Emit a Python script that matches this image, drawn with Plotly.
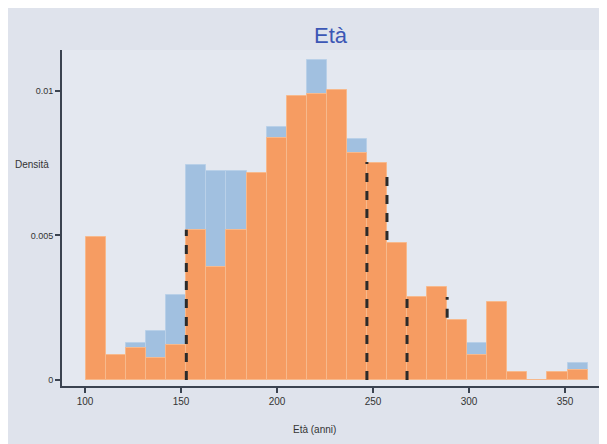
import numpy as np
import plotly.graph_objects as go

# ---- data ----
bin_start = 100.5
bin_width = 10.45
orange_density = [0.00495, 0.00087, 0.00110, 0.00076, 0.00121, 0.00520, 0.00390, 0.00520,
                  0.00716, 0.00837, 0.00983, 0.00990, 0.01003, 0.00785, 0.00750, 0.00474,
                  0.00287, 0.00322, 0.00208, 0.00087, 0.00270, 0.00028, 0.0, 0.00028, 0.00035]
blue_density = [0.0, 0.00060, 0.00128, 0.00170, 0.00294, 0.00744, 0.00723, 0.00723,
                0.00700, 0.00875, 0.00950, 0.01107, 0.00980, 0.00834, 0.00720, 0.00400,
                0.00250, 0.00280, 0.00180, 0.00128, 0.00220, 0.0, 0.0, 0.0, 0.00060]
# dashed reference segments: bin edge index, bottom, top (density)
dash_edge = [5, 14, 15, 16, 18]
dash_y0 = [0.0, 0.0, 0.00484, 0.0, 0.00215]
dash_y1 = [0.00520, 0.00754, 0.00727, 0.00294, 0.00287]
x_ticks = [100, 150, 200, 250, 300, 350]
y_ticks = [0, 0.005, 0.01]
y_ticktext = ["0", "0.005", "0.01"]
title_text = "Età"
x_title = "Età (anni)"
y_title = "Densità"

n = len(orange_density)
centers = [bin_start + bin_width * (i + 0.5) for i in range(n)]

fig = go.Figure()
fig.add_trace(go.Bar(x=centers, y=blue_density, width=bin_width,
                     marker=dict(color="#a1c0e0", line=dict(color="#b9d0e8", width=1)),
                     showlegend=False))
fig.add_trace(go.Bar(x=centers, y=orange_density, width=bin_width,
                     marker=dict(color="#f69c62", line=dict(color="#f7b98c", width=1)),
                     showlegend=False))
for e, a, b in zip(dash_edge, dash_y0, dash_y1):
    xe = bin_start + bin_width * e
    fig.add_trace(go.Scatter(x=[xe, xe], y=[a, b], mode="lines",
                             line=dict(color="#2b2b2b", width=3, dash="dash"),
                             showlegend=False, hoverinfo="skip"))

axis_col = "#3b4350"
fig.update_layout(
    width=599, height=436,
    margin=dict(l=54, r=7, t=42, b=58),
    barmode="overlay", bargap=0,
    paper_bgcolor="#dfe3ec", plot_bgcolor="#e4e8f0",
    font=dict(family="Liberation Sans, Arial, sans-serif", size=9, color="#333333"),
    xaxis=dict(range=[88, 368.2], tickvals=x_ticks, showgrid=False, zeroline=False,
               showline=True, linecolor=axis_col, linewidth=2,
               ticks="outside", ticklen=5, tickcolor=axis_col, tickwidth=2,
               tickfont=dict(size=10, color="#333333")),
    yaxis=dict(range=[-0.00021, 0.01142], tickvals=y_ticks, ticktext=y_ticktext,
               showgrid=False, zeroline=False,
               showline=True, linecolor=axis_col, linewidth=2,
               ticks="outside", ticklen=5, tickcolor=axis_col, tickwidth=2,
               tickfont=dict(size=9, color="#333333")),
    annotations=[
        dict(text=title_text, xref="paper", yref="paper", x=0.5, y=1.0,
             xanchor="center", yanchor="bottom", showarrow=False,
             font=dict(size=22, color="#3c57b5")),
        dict(text=x_title, xref="paper", yref="paper", x=0.47, y=-0.128,
             xanchor="center", yanchor="middle", showarrow=False,
             font=dict(size=10, color="#333333")),
        dict(text=y_title, xref="paper", yref="paper", x=-0.02, y=0.658,
             xanchor="right", yanchor="middle", showarrow=False,
             font=dict(size=10, color="#333333")),
    ],
)

fig.write_html("out.html")
